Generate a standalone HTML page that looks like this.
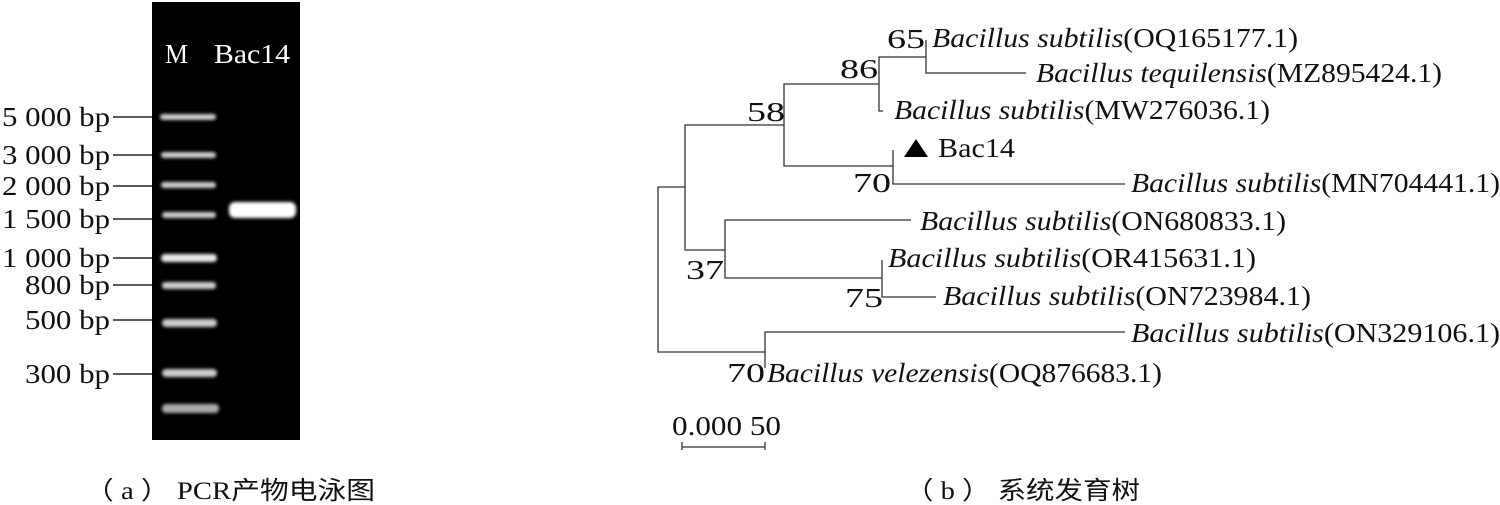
<!DOCTYPE html>
<html><head><meta charset="utf-8"><style>
body{margin:0;background:#fff;}
svg{display:block}
text{font-family:"Liberation Serif","Noto Serif CJK SC",serif;font-size:27px;fill:#111}
.i{font-style:italic}
</style></head><body>
<svg width="1500" height="505" viewBox="0 0 1500 505">
<defs><filter id="b"><feGaussianBlur stdDeviation="1.5"/></filter></defs>
<rect x="152" y="2" width="148" height="438" fill="#000"/>
<text x="165" y="63" textLength="23" lengthAdjust="spacingAndGlyphs" style="fill:#fff">M</text>
<text x="214" y="63" textLength="76" lengthAdjust="spacingAndGlyphs" style="fill:#fff">Bac14</text>
<g fill="#ccc" filter="url(#b)">
<rect x="160" y="114" width="56" height="6" rx="3"/>
<rect x="161" y="152" width="55" height="6" rx="3"/>
<rect x="161" y="182" width="55" height="6" rx="3"/>
<rect x="162" y="212" width="54" height="6" rx="3"/>
<rect x="161" y="254" width="56" height="8" rx="4" fill="#e8e8e8"/>
<rect x="162" y="282" width="54" height="7" rx="3"/>
<rect x="162" y="319" width="55" height="8" rx="4"/>
<rect x="162" y="369" width="55" height="8" rx="4"/>
<rect x="162" y="404" width="57" height="9" rx="4" fill="#aaa"/>
<rect x="229" y="202" width="67" height="16" rx="6" fill="#fff"/>
</g>
<g stroke="#222" stroke-width="1.5">
<line x1="113" y1="117" x2="152" y2="117"/><line x1="113" y1="155" x2="152" y2="155"/>
<line x1="113" y1="186" x2="152" y2="186"/><line x1="113" y1="219" x2="152" y2="219"/>
<line x1="113" y1="258" x2="152" y2="258"/><line x1="113" y1="285" x2="152" y2="285"/>
<line x1="113" y1="320" x2="152" y2="320"/><line x1="113" y1="374" x2="152" y2="374"/>
</g>
<text x="2" y="126" textLength="108" lengthAdjust="spacingAndGlyphs">5 000 bp</text>
<text x="2" y="164" textLength="108" lengthAdjust="spacingAndGlyphs">3 000 bp</text>
<text x="2" y="195" textLength="108" lengthAdjust="spacingAndGlyphs">2 000 bp</text>
<text x="2" y="228" textLength="108" lengthAdjust="spacingAndGlyphs">1 500 bp</text>
<text x="2" y="267" textLength="108" lengthAdjust="spacingAndGlyphs">1 000 bp</text>
<text x="25" y="294" textLength="85" lengthAdjust="spacingAndGlyphs">800 bp</text>
<text x="25" y="329" textLength="85" lengthAdjust="spacingAndGlyphs">500 bp</text>
<text x="25" y="383" textLength="85" lengthAdjust="spacingAndGlyphs">300 bp</text>
<text x="85" y="499" textLength="290" lengthAdjust="spacingAndGlyphs" style="font-family:'Liberation Serif','Noto Sans CJK SC',serif;font-size:25px">（ a ） PCR产物电泳图</text>

<g stroke="#333" stroke-width="1.3" fill="none">
<path d="M685 187H658V352H765"/>
<path d="M784 125H685V250H725"/>
<path d="M879 84H784V166H893"/>
<path d="M926 57H879V111H883"/>
<path d="M926 40V73H1026"/>
<path d="M893 150V184H1125"/>
<path d="M911 220H725V278H882"/>
<path d="M882 260V297H936"/>
<path d="M1125 332H765V368"/>
<path d="M682 442V450M682 447H765M765 442V450"/>
</g>
<text x="887" y="48" textLength="38" lengthAdjust="spacingAndGlyphs">65</text>
<text x="840" y="78" textLength="38" lengthAdjust="spacingAndGlyphs">86</text>
<text x="747" y="121" textLength="38" lengthAdjust="spacingAndGlyphs">58</text>
<text x="853" y="192" textLength="38" lengthAdjust="spacingAndGlyphs">70</text>
<text x="686" y="279" textLength="38" lengthAdjust="spacingAndGlyphs">37</text>
<text x="845" y="307" textLength="38" lengthAdjust="spacingAndGlyphs">75</text>
<text x="727" y="382" textLength="38" lengthAdjust="spacingAndGlyphs">70</text>
<text x="932" y="47" textLength="366" lengthAdjust="spacingAndGlyphs"><tspan class="i">Bacillus subtilis</tspan>(OQ165177.1)</text>
<text x="1036" y="82" textLength="406" lengthAdjust="spacingAndGlyphs"><tspan class="i">Bacillus tequilensis</tspan>(MZ895424.1)</text>
<text x="894" y="119" textLength="376" lengthAdjust="spacingAndGlyphs"><tspan class="i">Bacillus subtilis</tspan>(MW276036.1)</text>
<polygon points="916,139 904,157 928,157" fill="#000"/>
<text x="938" y="157" textLength="77" lengthAdjust="spacingAndGlyphs">Bac14</text>
<text x="1131" y="192" textLength="369" lengthAdjust="spacingAndGlyphs"><tspan class="i">Bacillus subtilis</tspan>(MN704441.1)</text>
<text x="920" y="230" textLength="366" lengthAdjust="spacingAndGlyphs"><tspan class="i">Bacillus subtilis</tspan>(ON680833.1)</text>
<text x="888" y="267" textLength="368" lengthAdjust="spacingAndGlyphs"><tspan class="i">Bacillus subtilis</tspan>(OR415631.1)</text>
<text x="943" y="305" textLength="368" lengthAdjust="spacingAndGlyphs"><tspan class="i">Bacillus subtilis</tspan>(ON723984.1)</text>
<text x="1131" y="342" textLength="369" lengthAdjust="spacingAndGlyphs"><tspan class="i">Bacillus subtilis</tspan>(ON329106.1)</text>
<text x="767" y="382" textLength="395" lengthAdjust="spacingAndGlyphs"><tspan class="i">Bacillus velezensis</tspan>(OQ876683.1)</text>
<text x="672" y="435" textLength="109" lengthAdjust="spacingAndGlyphs">0.000 50</text>
<text x="905" y="499" textLength="235" lengthAdjust="spacingAndGlyphs" style="font-family:'Liberation Serif','Noto Sans CJK SC',serif;font-size:25px">（ b ） 系统发育树</text>
</svg>
</body></html>
